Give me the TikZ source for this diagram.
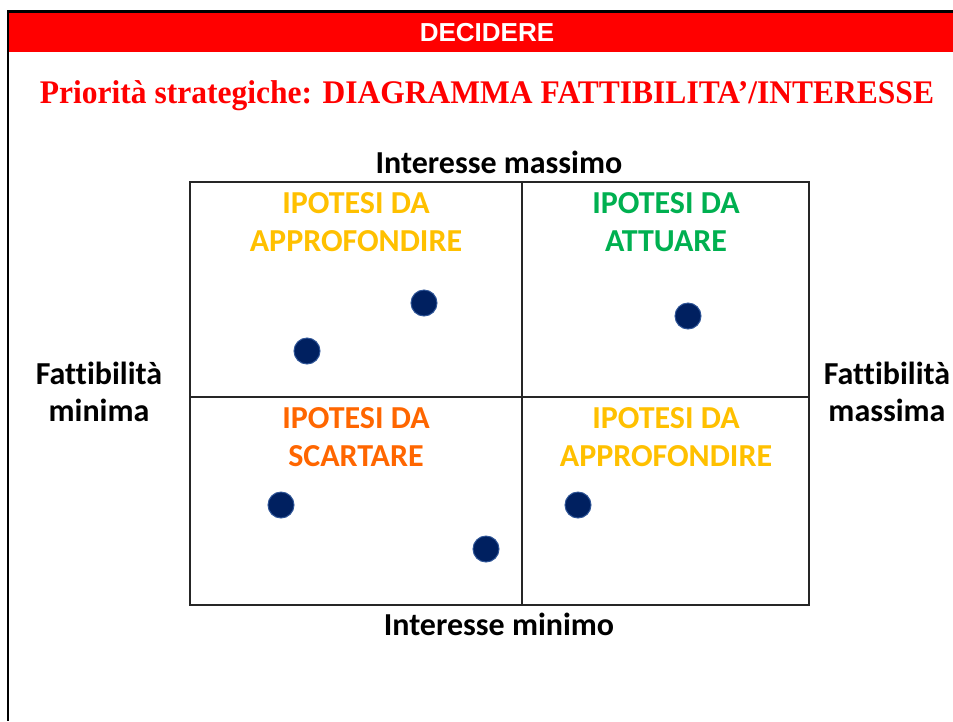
\documentclass[tikz,border=0pt]{standalone}
\usepackage{fontspec}
\setmainfont{Carlito}[Ligatures=NoCommon]
\newfontfamily\arialfont{Liberation Sans}
\newfontfamily\timesfont{Liberation Serif}
\usetikzlibrary{positioning}

\definecolor{bandred}{HTML}{FF0000}
\definecolor{approf}{HTML}{FFC000}
\definecolor{attuare}{HTML}{00B050}
\definecolor{scartare}{HTML}{FF6600}
\definecolor{dotnavy}{HTML}{002060}
\definecolor{dotedge}{HTML}{2F5597}

\tikzset{
  lbl/.style={anchor=base,inner sep=0pt,font=\fontsize{32}{38}\selectfont\bfseries},
  axis/.style={anchor=base,inner sep=0pt,font=\fontsize{32}{38}\selectfont\bfseries,text=black},
  dot/.style={circle,fill=dotnavy,draw=dotedge,line width=1pt,minimum size=26pt,inner sep=0pt},
  gridline/.style={line width=1.3pt,draw=black!85}
}

\begin{document}
\begin{tikzpicture}[x=1pt,y=-1pt]
  \useasboundingbox (0,0) rectangle (953,721);

  % frame and banner
  \fill[bandred] (9,13) rectangle (953,52);
  \draw[line width=3pt] (8,11.5) -- (953,11.5);
  \draw[line width=2.5pt] (8,10) -- (8,721);

  \node[anchor=base,inner sep=0pt,text=white,font=\arialfont\fontsize{26}{30}\selectfont\bfseries] (title) at (487,41) {DECIDERE};
  \node[anchor=base,inner sep=0pt,text=bandred,font=\timesfont\fontsize{33}{38}\selectfont\bfseries] (subtitle) at (487,103) {\scalebox{0.955}[1]{Priorità strategiche: DIAGRAMMA FATTIBILITA’/INTERESSE}};

  % grid
  \coordinate (nw) at (190,182);
  \coordinate (se) at (809,605);
  \coordinate (mtop) at (522,182);
  \coordinate (mbot) at (522,605);
  \coordinate (mleft) at (190,397);
  \coordinate (mright) at (809,397);
  \draw[gridline] (nw) rectangle (se);
  \draw[gridline] (mtop) -- (mbot);
  \draw[gridline] (mleft) -- (mright);

  % axis labels
  \node[axis] (intmax) at (499,173) {Interesse massimo};
  \node[axis] (intmin) at (499,635) {Interesse minimo};
  \draw (99,384) node[axis] (fatmin1) {Fattibilità}
  ++(0,37) node[axis] (fatmin2) {minima};
  \draw (887,384) node[axis] (fatmax1) {Fattibilità}
  ++(0,37) node[axis] (fatmax2) {massima};

  % quadrant labels
  \draw (356,213) node[lbl,text=approf] (tl1) {IPOTESI DA}
  ++(0,38) node[lbl,text=approf] (tl2) {APPROFONDIRE};
  \draw (666,213) node[lbl,text=attuare] (tr1) {IPOTESI DA}
  ++(0,38) node[lbl,text=attuare] (tr2) {ATTUARE};
  \draw (356,428) node[lbl,text=scartare] (bl1) {IPOTESI DA}
  ++(0,38) node[lbl,text=scartare] (bl2) {SCARTARE};
  \draw (666,428) node[lbl,text=approf] (br1) {IPOTESI DA}
  ++(0,38) node[lbl,text=approf] (br2) {APPROFONDIRE};

  % hypotheses
  \node[dot] (h1) at (424,303) {};
  \node[dot] (h2) at (307,351) {};
  \node[dot] (h3) at (688,316) {};
  \node[dot] (h4) at (281,505) {};
  \node[dot] (h5) at (486,549) {};
  \node[dot] (h6) at (578,505) {};

\end{tikzpicture}
\end{document}
